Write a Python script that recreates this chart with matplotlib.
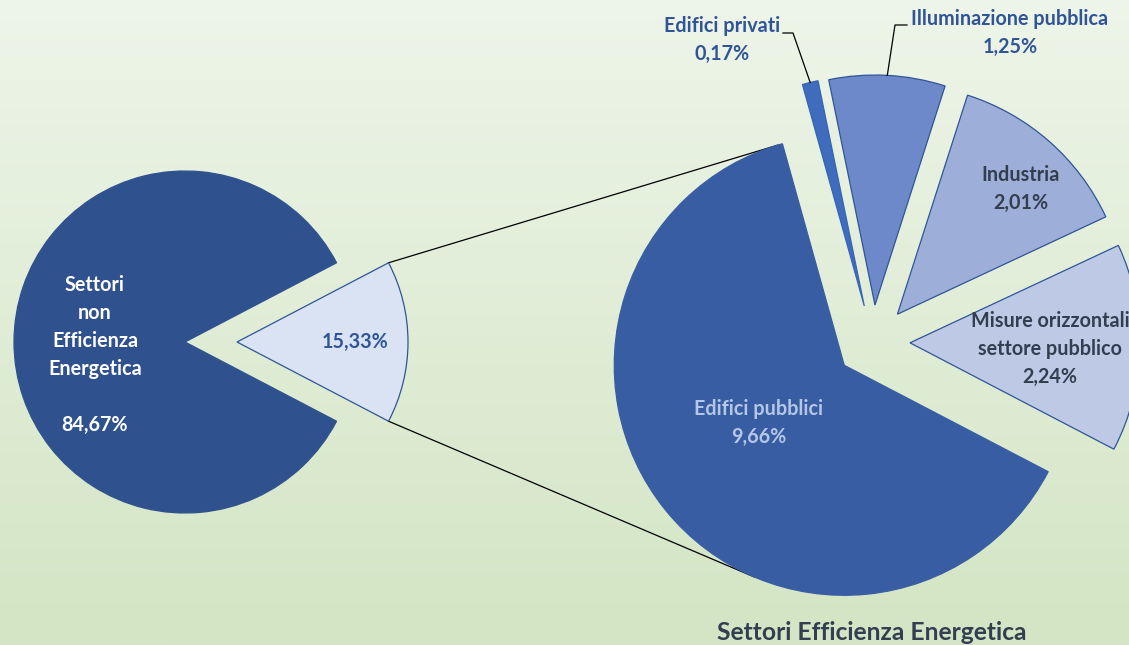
import numpy as np
import matplotlib.pyplot as plt
from matplotlib.colors import to_rgb

# ---- data (percent of total) ----
main_names = ["Settori\nnon\nEfficienza\nEnergetica", "Settori Efficienza Energetica"]
main_values = [84.67, 15.33]

sub_names = ["Edifici privati", "Illuminazione pubblica", "Industria",
             "Misure orizzontali\nsettore pubblico", "Edifici pubblici"]
sub_values = [0.17, 1.25, 2.01, 2.24, 9.66]

# ---- styling ----
FONT = "Lato"
DARK_TEXT = "#333F50"
BLUE_TEXT = "#2F5597"
main_colors = ["#2F528F", "#DAE3F3"]
sub_colors = ["#3F6CBC", "#6D89C9", "#9DAED8", "#BEC9E5", "#385DA3"]


def fmt(v):
    return f"{v:.2f}".replace(".", ",") + "%"


W, H = 1129, 645
fig = plt.figure(figsize=(W / 100, H / 100), dpi=100)
ax = fig.add_axes([0, 0, 1, 1])

# vertical background gradient
top = np.array(to_rgb("#EEF5E9"))
bot = np.array(to_rgb("#D3E5C4"))
t = np.linspace(0, 1, 256)[:, None, None]
grad = top * (1 - t) + bot * t
ax.imshow(grad, extent=[0, W, 0, H], origin="upper", aspect="auto", zorder=0)

# ---- primary pie ----
left_w, _ = ax.pie(main_values, colors=main_colors, center=(211, 303), radius=171,
                   startangle=180 * main_values[1] / sum(main_values),
                   counterclock=True, explode=[26, 26], frame=True,
                   wedgeprops=dict(linewidth=0.9, edgecolor="#2F5597"))
left_w[0].set_edgecolor(main_colors[0])
for w in left_w:
    w.set_zorder(2)

# ---- secondary pie (breakdown of the efficiency share) ----
sub_w, _ = ax.pie(sub_values, colors=sub_colors, center=(873, 303), radius=230,
                  startangle=105.6, counterclock=False, explode=[37] * 5, frame=True,
                  wedgeprops=dict(linewidth=0.9, edgecolor="#2F5597"))
sub_w[4].set_edgecolor(sub_colors[4])
sub_w[0].set_edgecolor("#3565B5")
for w in sub_w:
    w.set_zorder(2)

ax.set_xlim(0, W)
ax.set_ylim(0, H)
ax.set_aspect("equal")
ax.axis("off")


# ---- connector lines: light wedge corners -> tangents of the big wedge ----
def wedge_point(w, ang, r=None):
    cx, cy = w.center
    r = w.r if r is None else r
    a = np.deg2rad(ang)
    return np.array([cx + r * np.cos(a), cy + r * np.sin(a)])


def tangent_point(p, w, upper):
    o = np.array(w.center)
    r = w.r
    v = p - o
    d = np.hypot(*v)
    base = np.arctan2(v[1], v[0])
    delta = np.arccos(r / d)
    cands = [o + r * np.array([np.cos(base + s * delta), np.sin(base + s * delta)])
             for s in (1, -1)]
    cands.sort(key=lambda q: q[1])
    return cands[1] if upper else cands[0]


lw_ = left_w[1]
p_hi = wedge_point(lw_, max(lw_.theta1, lw_.theta2))
p_lo = wedge_point(lw_, min(lw_.theta1, lw_.theta2))
pub = sub_w[4]
for p, up in ((p_hi, True), (p_lo, False)):
    q = tangent_point(p, pub, up)
    ax.plot([p[0], q[0]], [p[1], q[1]], color="black", lw=0.9, zorder=1)

# ---- labels ----
lab = dict(family=FONT, fontweight="bold", fontsize=14.2, ha="center", va="center",
           zorder=5, linespacing=1.5)

ax.text(95, H - 355, main_names[0] + "\n\n" + fmt(main_values[0]), color="white", **lab)
ax.text(355, H - 342, fmt(main_values[1]), color=BLUE_TEXT, **lab)

ax.text(759, H - 423, sub_names[4] + "\n" + fmt(sub_values[4]), color="#B4C7E7", **lab)
ax.text(1021, H - 189, sub_names[2] + "\n" + fmt(sub_values[2]), color=DARK_TEXT, **lab)
ax.text(1050, H - 349, sub_names[3] + "\n" + fmt(sub_values[3]), color=DARK_TEXT, **lab)
ax.text(722, H - 40, sub_names[0] + "\n" + fmt(sub_values[0]), color=BLUE_TEXT, **lab)
ax.text(1010, H - 33, sub_names[1] + "\n" + fmt(sub_values[1]), color=BLUE_TEXT, **lab)


# leader lines for the two thin slices
def mid_angle(w):
    return 0.5 * (w.theta1 + w.theta2)


tip0 = wedge_point(sub_w[0], mid_angle(sub_w[0]))
ax.plot([783, 793, tip0[0]], [H - 33, H - 33, tip0[1]], color="black", lw=0.9, zorder=3)
tip1 = wedge_point(sub_w[1], mid_angle(sub_w[1]))
ax.plot([907, 895, tip1[0]], [H - 25, H - 25, tip1[1]], color="black", lw=0.9, zorder=3)

# caption of the secondary pie
ax.text(872, H - 633, main_names[1], family=FONT, fontweight="bold", fontsize=17.7,
        color=DARK_TEXT, ha="center", va="center", zorder=5)

fig.savefig("out.png", dpi=100)
